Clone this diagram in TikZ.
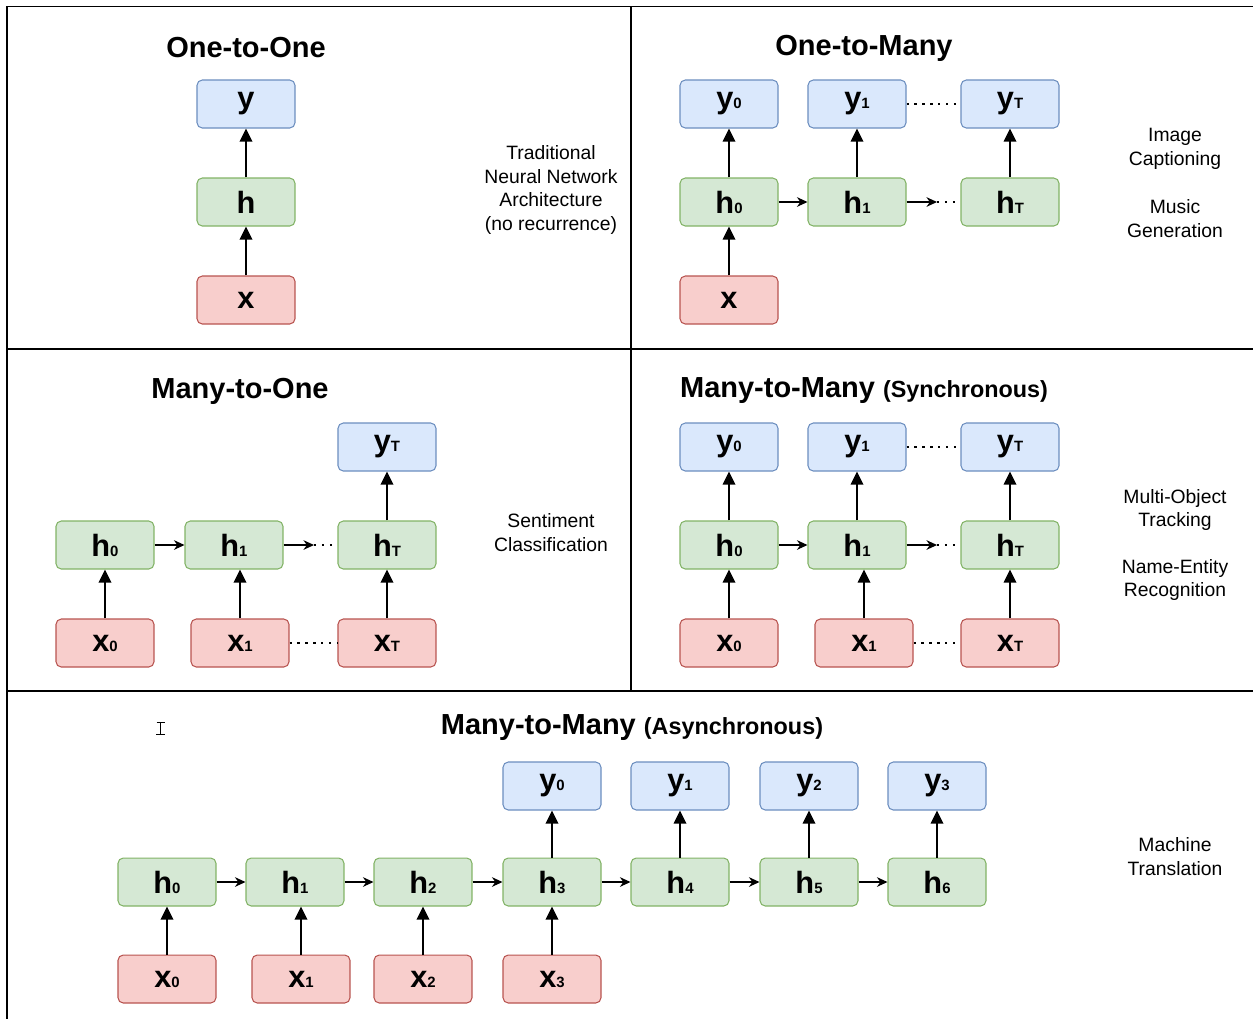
\documentclass[tikz,border=0pt]{standalone}
\usepackage{fontspec}
\setmainfont{Liberation Sans}
\usetikzlibrary{arrows.meta,positioning}
\definecolor{outf}{HTML}{DAE8FC}
\definecolor{outd}{HTML}{6C8EBF}
\definecolor{hidf}{HTML}{D5E8D4}
\definecolor{hidd}{HTML}{82B366}
\definecolor{inf}{HTML}{F8CECC}
\definecolor{ind}{HTML}{B85450}
\tikzset{
    cell/.style={rounded corners=3pt, minimum width=1.96cm, minimum height=0.96cm,
                 inner sep=0pt, line width=0.6pt,
                 font=\bfseries\fontsize{17.5}{20}\selectfont},
    outbox/.style={cell, draw=outd, fill=outf},   % outputs y
    hidbox/.style={cell, draw=hidd, fill=hidf},   % hidden states h
    inbox/.style={cell, draw=ind, fill=inf},      % inputs x
    up/.style={-{Triangle[length=7.5pt,width=7pt]}, line width=1.4pt},
    nxt/.style={-{Stealth[length=6pt,width=5.5pt]}, line width=0.7pt},
    dots/.style={line width=1.3pt, dash pattern=on 1.3pt off 3.2pt},
    title/.style={font=\bfseries\fontsize{16.5}{20}\selectfont},
    note/.style={align=center, font=\fontsize{11}{13.6}\selectfont}
}
\newcommand{\idx}[2]{#1{\fontsize{8.5}{10}\selectfont #2}}

\begin{document}
\begin{tikzpicture}[x=0.02cm,y=-0.02cm]
    \useasboundingbox (0,0) rectangle (1253,1019);
    % frame
    \draw[line width=0.8pt] (1253,6.5) -- (7,6.5) -- (7,1019);
    \draw[line width=0.8pt] (7,349) -- (1253,349);
    \draw[line width=0.8pt] (7,691) -- (1253,691);
    \draw[line width=0.8pt] (631,6.5) -- (631,691);

    % one-to-one
    \node[title] (t11) at (246,48) {One-to-One};
    \node[outbox] (oo-y) at (246,104) {y};
    \node[hidbox] (oo-h) at (246,202) {h};
    \node[inbox]  (oo-x) at (246,300) {x};
    \draw[up] (oo-x) -- (oo-h);
    \draw[up] (oo-h) -- (oo-y);
    \node[note] (n11) at (551,190) {Traditional\\Neural Network\\Architecture\\(no recurrence)};

    % one-to-many
    \node[title] (t1m) at (864,48) {One-to-Many};
    \node[outbox] (om-y0) at (729,104) {\idx{y}{0}};
    \node[outbox] (om-y1) at (857,104) {\idx{y}{1}};
    \node[outbox] (om-yT) at (1010,104) {\idx{y}{T}};
    \node[hidbox] (om-h0) at (729,202) {\idx{h}{0}};
    \node[hidbox] (om-h1) at (857,202) {\idx{h}{1}};
    \node[hidbox] (om-hT) at (1010,202) {\idx{h}{T}};
    \node[inbox]  (om-x0) at (729,300) {x};
    \coordinate (om-d) at (937,202);
    \draw[up] (om-x0) -- (om-h0);
    \draw[up] (om-h0) -- (om-y0);
    \draw[up] (om-h1) -- (om-y1);
    \draw[up] (om-hT) -- (om-yT);
    \draw[nxt] (om-h0) -- (om-h1);
    \draw[nxt] (om-h1) -- (om-d);
    \draw[dots] (om-d) -- (om-hT);
    \draw[dots] (om-y1) -- (om-yT);
    \node[note] (n1m) at (1175,149) {Image\\Captioning};
    \node[note] (n1m2) at (1175,219) {Music\\Generation};

    % many-to-one
    \node[title] (tm1) at (240,391) {Many-to-One};
    \node[outbox] (mo-yT) at (387,447) {\idx{y}{T}};
    \node[hidbox] (mo-h0) at (105,545) {\idx{h}{0}};
    \node[hidbox] (mo-h1) at (234,545) {\idx{h}{1}};
    \node[hidbox] (mo-hT) at (387,545) {\idx{h}{T}};
    \node[inbox]  (mo-x0) at (105,643) {\idx{x}{0}};
    \node[inbox]  (mo-x1) at (240,643) {\idx{x}{1}};
    \node[inbox]  (mo-xT) at (387,643) {\idx{x}{T}};
    \coordinate (mo-d) at (314,545);
    \draw[up] (mo-x0) -- (mo-h0);
    \draw[up] (mo-x1.north) -- (mo-x1.north |- mo-h1.south);
    \draw[up] (mo-xT) -- (mo-hT);
    \draw[up] (mo-hT) -- (mo-yT);
    \draw[nxt] (mo-h0) -- (mo-h1);
    \draw[nxt] (mo-h1) -- (mo-d);
    \draw[dots] (mo-d) -- (mo-hT);
    \draw[dots] (mo-x1) -- (mo-xT);
    \node[note] (nm1) at (551,533) {Sentiment\\Classification};

    % many-to-many, synchronous
    \node[title] (tmm) at (864,391) {Many-to-Many {\fontsize{13.3}{15}\selectfont (Synchronous)}};
    \node[outbox] (ms-y0) at (729,447) {\idx{y}{0}};
    \node[outbox] (ms-y1) at (857,447) {\idx{y}{1}};
    \node[outbox] (ms-yT) at (1010,447) {\idx{y}{T}};
    \node[hidbox] (ms-h0) at (729,545) {\idx{h}{0}};
    \node[hidbox] (ms-h1) at (857,545) {\idx{h}{1}};
    \node[hidbox] (ms-hT) at (1010,545) {\idx{h}{T}};
    \node[inbox]  (ms-x0) at (729,643) {\idx{x}{0}};
    \node[inbox]  (ms-x1) at (864,643) {\idx{x}{1}};
    \node[inbox]  (ms-xT) at (1010,643) {\idx{x}{T}};
    \coordinate (ms-d) at (937,545);
    \draw[up] (ms-x0) -- (ms-h0);
    \draw[up] (ms-x1.north) -- (ms-x1.north |- ms-h1.south);
    \draw[up] (ms-xT) -- (ms-hT);
    \draw[up] (ms-h0) -- (ms-y0);
    \draw[up] (ms-h1) -- (ms-y1);
    \draw[up] (ms-hT) -- (ms-yT);
    \draw[nxt] (ms-h0) -- (ms-h1);
    \draw[nxt] (ms-h1) -- (ms-d);
    \draw[dots] (ms-d) -- (ms-hT);
    \draw[dots] (ms-y1) -- (ms-yT);
    \draw[dots] (ms-x1) -- (ms-xT);
    \node[note] (nmm) at (1175,510) {Multi-Object\\Tracking};
    \node[note] (nmm2) at (1175,580) {Name-Entity\\Recognition};

    % many-to-many, asynchronous
    \draw[line width=0.7pt] (156.5,722.5) -- (164.5,722.5) (160.5,722.5) -- (160.5,734.5)
        (156,734.5) -- (165,734.5);
    \node[title] (tma) at (632,728) {Many-to-Many {\fontsize{13.3}{15}\selectfont (Asynchronous)}};
    \node[outbox] (ma-y0) at (552,786) {\idx{y}{0}};
    \node[outbox] (ma-y1) at (680,786) {\idx{y}{1}};
    \node[outbox] (ma-y2) at (809,786) {\idx{y}{2}};
    \node[outbox] (ma-y3) at (937,786) {\idx{y}{3}};
    \node[hidbox] (ma-h0) at (167,882) {\idx{h}{0}};
    \node[hidbox] (ma-h1) at (295,882) {\idx{h}{1}};
    \node[hidbox] (ma-h2) at (423,882) {\idx{h}{2}};
    \node[hidbox] (ma-h3) at (552,882) {\idx{h}{3}};
    \node[hidbox] (ma-h4) at (680,882) {\idx{h}{4}};
    \node[hidbox] (ma-h5) at (809,882) {\idx{h}{5}};
    \node[hidbox] (ma-h6) at (937,882) {\idx{h}{6}};
    \node[inbox]  (ma-x0) at (167,979) {\idx{x}{0}};
    \node[inbox]  (ma-x1) at (301,979) {\idx{x}{1}};
    \node[inbox]  (ma-x2) at (423,979) {\idx{x}{2}};
    \node[inbox]  (ma-x3) at (552,979) {\idx{x}{3}};
    \draw[up] (ma-x0) -- (ma-h0);
    \draw[up] (ma-x1.north) -- (ma-x1.north |- ma-h1.south);
    \draw[up] (ma-x2) -- (ma-h2);
    \draw[up] (ma-x3) -- (ma-h3);
    \draw[up] (ma-h3) -- (ma-y0);
    \draw[up] (ma-h4) -- (ma-y1);
    \draw[up] (ma-h5) -- (ma-y2);
    \draw[up] (ma-h6) -- (ma-y3);
    \foreach \a/\b in {0/1,1/2,2/3,3/4,4/5,5/6}
        \draw[nxt] (ma-h\a) -- (ma-h\b);
    \node[note] (nma) at (1175,857) {Machine\\Translation};
\end{tikzpicture}
\end{document}
